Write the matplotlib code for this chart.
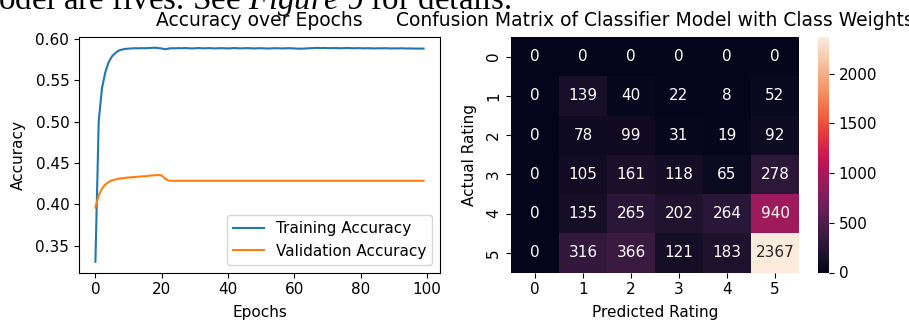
import numpy as np
import matplotlib
matplotlib.use("Agg")
import matplotlib.pyplot as plt
import seaborn as sns

plt.rcParams["font.family"] = ["DejaVu Sans"]
plt.rcParams["mathtext.fontset"] = "custom"
plt.rcParams["mathtext.rm"] = "Liberation Serif"
plt.rcParams["mathtext.it"] = "Liberation Serif:italic"

# training history (accuracy per epoch)
train_acc = [
    0.3305, 0.501, 0.541, 0.560, 0.572, 0.579, 0.583, 0.586, 0.5872, 0.5880,
    0.5884, 0.5886, 0.5889, 0.5887, 0.5890, 0.5888, 0.5891, 0.5893, 0.5895, 0.5890,
    0.5886, 0.5876, 0.5884, 0.5889, 0.5887, 0.5890, 0.5888, 0.5891, 0.5889, 0.5886,
    0.5888, 0.5891, 0.5889, 0.5887, 0.5890, 0.5889, 0.5886, 0.5888, 0.5890, 0.5888,
    0.5886, 0.5889, 0.5891, 0.5888, 0.5887, 0.5889, 0.5890, 0.5887, 0.5886, 0.5888,
    0.5889, 0.5887, 0.5885, 0.5887, 0.5889, 0.5888, 0.5886, 0.5887, 0.5889, 0.5888,
    0.5886, 0.5884, 0.5883, 0.5885, 0.5887, 0.5889, 0.5891, 0.5893, 0.5890, 0.5892,
    0.5890, 0.5889, 0.5891, 0.5890, 0.5888, 0.5890, 0.5892, 0.5889, 0.5888, 0.5890,
    0.5889, 0.5887, 0.5889, 0.5888, 0.5886, 0.5888, 0.5887, 0.5889, 0.5888, 0.5886,
    0.5887, 0.5886, 0.5888, 0.5887, 0.5885, 0.5886, 0.5885, 0.5884, 0.5885, 0.5884,
]
val_acc = [
    0.396, 0.411, 0.419, 0.424, 0.427, 0.429, 0.430, 0.431, 0.4315, 0.432,
    0.4325, 0.4328, 0.4332, 0.4335, 0.4338, 0.434, 0.4345, 0.435, 0.4352, 0.4355,
    0.435, 0.4312, 0.4288,
] + [0.4285] * 77
epochs = np.arange(len(train_acc))

# confusion matrix, rows = actual rating, cols = predicted rating
ratings = [0, 1, 2, 3, 4, 5]
conf_mat = np.array([
    [0, 0, 0, 0, 0, 0],
    [0, 139, 40, 22, 8, 52],
    [0, 78, 99, 31, 19, 92],
    [0, 105, 161, 118, 65, 278],
    [0, 135, 265, 202, 264, 940],
    [0, 316, 366, 121, 183, 2367],
])

W, H = 909, 322
fig = plt.figure(figsize=(W / 100, H / 100), dpi=100)

fs = 11
fs_title = 13.5
bottom, top = 272.5, 37

# Accuracy curves
ax1 = fig.add_axes([79 / W, 1 - bottom / H, (440 - 79) / W, (bottom - top) / H])
ax1.plot(epochs, train_acc, label="Training Accuracy")
ax1.plot(epochs, val_acc, label="Validation Accuracy")
ax1.set_title("Accuracy over Epochs", fontsize=fs_title, pad=8)
ax1.set_xlabel("Epochs", fontsize=fs, labelpad=5.5)
ax1.set_ylabel("Accuracy", fontsize=fs, labelpad=6.5)
ax1.tick_params(labelsize=fs)
ax1.legend(loc="lower right", fontsize=fs)

# Confusion matrix heatmap
ax2 = fig.add_axes([511 / W, 1 - bottom / H, (799 - 511) / W, (bottom - top) / H])
cax = fig.add_axes([818 / W, 1 - bottom / H, 11 / W, (bottom - top) / H])
sns.heatmap(conf_mat, annot=True, fmt="d", ax=ax2, cbar_ax=cax,
            xticklabels=ratings, yticklabels=ratings,
            annot_kws={"fontsize": fs})
ax2.set_title("Confusion Matrix of Classifier Model with Class Weights",
              fontsize=fs_title, pad=8)
ax2.set_xlabel("Predicted Rating", fontsize=fs, labelpad=5.5)
ax2.set_ylabel("Actual Rating", fontsize=fs, labelpad=6.5)
ax2.tick_params(labelsize=fs)
plt.setp(ax2.get_yticklabels(), rotation=90, va="center")
cax.tick_params(labelsize=fs)

# surrounding text line from the page
fig.text(-2 / W, 1 - 9.5 / H, r"odel are fives. See $\mathit{Figure}$ 9 for details.",
         fontsize=23.8, family="Liberation Serif", va="baseline", ha="left")

fig.savefig("out.png", dpi=100)
